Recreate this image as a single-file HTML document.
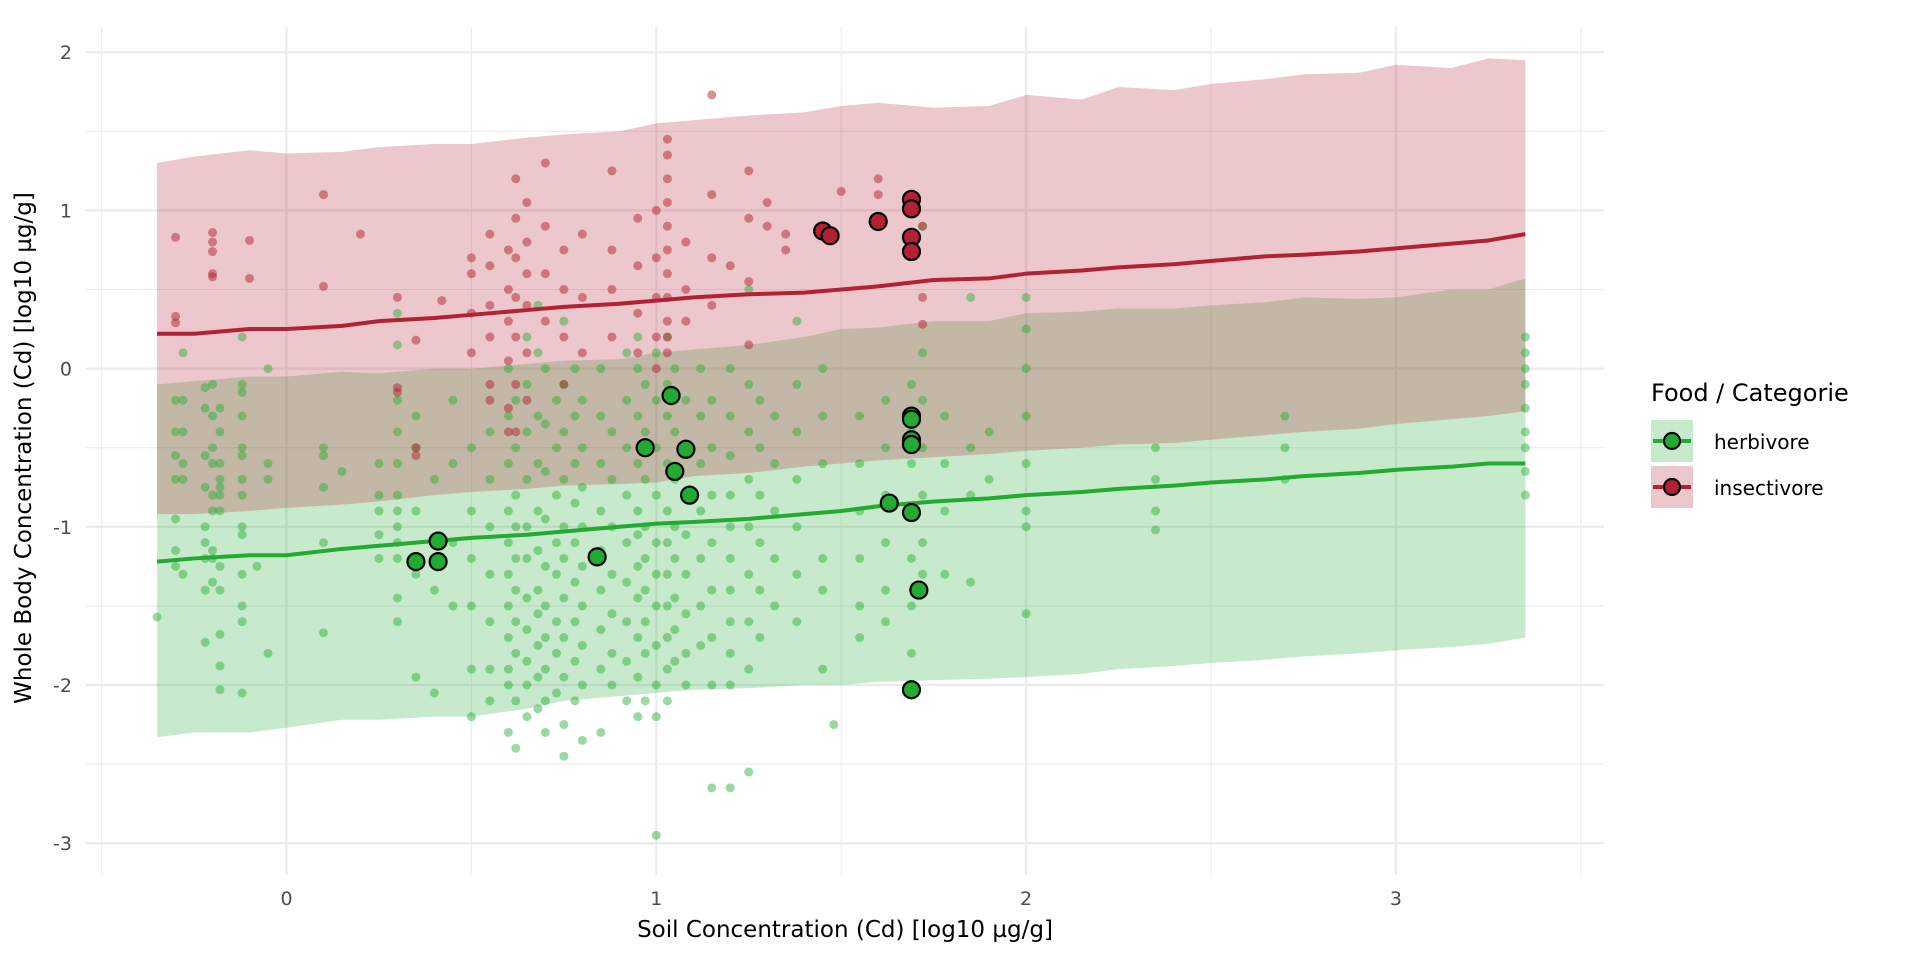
<!DOCTYPE html>
<html><head><meta charset="utf-8">
<style>
html,body{margin:0;padding:0;background:#fff;}
svg{display:block;font-family:"DejaVu Sans","Liberation Sans",sans-serif;}
</style></head>
<body>
<svg id="chart" width="1920" height="960">
  <g id="grid"></g>
  <g id="ribbons"></g>
  <g id="points"></g>
  <g id="lines"></g>
  <g id="bigpoints"></g>
  <g id="axes"></g>
  <text x="845" y="937" text-anchor="middle" font-size="23" fill="#000">Soil Concentration (Cd) [log10 µg/g]</text>
  <text transform="translate(31,448) rotate(-90)" text-anchor="middle" font-size="23" fill="#000">Whole Body Concentration (Cd) [log10 µg/g]</text>
  <g>
    <text x="1651" y="401" font-size="24" fill="#000">Food / Categorie</text>
    <g>
      <rect x="1651" y="420" width="42" height="42" fill="rgb(200,234,204)"/>
      <line x1="1653" y1="441" x2="1691" y2="441" stroke="#22aa33" stroke-width="4"/>
      <circle cx="1672" cy="441" r="8" fill="#22aa33" stroke="#000" stroke-width="2.2"/>
      <text x="1714" y="449" font-size="20" fill="#000">herbivore</text>
    </g>
    <g>
      <rect x="1651" y="466" width="42" height="42" fill="rgb(236,200,204)"/>
      <line x1="1653" y1="487" x2="1691" y2="487" stroke="#b22234" stroke-width="4"/>
      <circle cx="1672" cy="487" r="8" fill="#b22234" stroke="#000" stroke-width="2.2"/>
      <text x="1714" y="495" font-size="20" fill="#000">insectivore</text>
    </g>
  </g>
</svg>
<script>
const xTicks = [0, 1, 2, 3];
const yTicks = [2, 1, 0, -1, -2, -3];
const ribbonX = [-0.35,-0.25,-0.1,0,0.15,0.25,0.4,0.5,0.65,0.75,0.9,1.0,1.1,1.25,1.4,1.5,1.6,1.75,1.9,2.0,2.15,2.25,2.4,2.5,2.65,2.75,2.9,3.0,3.15,3.25,3.35];
const insUpper = [1.30,1.34,1.38,1.36,1.37,1.40,1.42,1.42,1.46,1.48,1.50,1.55,1.57,1.60,1.62,1.66,1.68,1.65,1.66,1.73,1.70,1.78,1.76,1.80,1.83,1.86,1.87,1.92,1.90,1.96,1.95];
const insLower = [-0.92,-0.92,-0.90,-0.88,-0.86,-0.84,-0.80,-0.78,-0.76,-0.74,-0.73,-0.72,-0.68,-0.66,-0.62,-0.60,-0.58,-0.56,-0.54,-0.52,-0.50,-0.48,-0.47,-0.45,-0.42,-0.40,-0.38,-0.35,-0.32,-0.30,-0.27];
const insMid = [0.22,0.22,0.25,0.25,0.27,0.30,0.32,0.34,0.37,0.39,0.41,0.43,0.45,0.47,0.48,0.50,0.52,0.56,0.57,0.60,0.62,0.64,0.66,0.68,0.71,0.72,0.74,0.76,0.79,0.81,0.85];
const herbUpper = [-0.10,-0.08,-0.05,-0.05,-0.02,-0.03,0.00,0.00,0.03,0.05,0.06,0.10,0.12,0.15,0.20,0.25,0.26,0.30,0.30,0.35,0.36,0.38,0.38,0.40,0.42,0.45,0.44,0.45,0.50,0.50,0.57];
const herbLower = [-2.33,-2.30,-2.30,-2.27,-2.22,-2.22,-2.20,-2.20,-2.15,-2.10,-2.07,-2.05,-2.03,-2.02,-2.00,-2.00,-1.98,-1.97,-1.96,-1.95,-1.93,-1.90,-1.88,-1.86,-1.84,-1.82,-1.80,-1.78,-1.76,-1.74,-1.70];
const herbMid = [-1.22,-1.20,-1.18,-1.18,-1.14,-1.12,-1.09,-1.07,-1.05,-1.03,-1.00,-0.98,-0.97,-0.95,-0.92,-0.90,-0.87,-0.84,-0.82,-0.80,-0.78,-0.76,-0.74,-0.72,-0.70,-0.68,-0.66,-0.64,-0.62,-0.60,-0.60];
const herbCols = [
 [-0.35,[-1.57]],[-0.3,[-0.2,-0.4,-0.55,-0.7,-0.95,-1.15,-1.25]],[-0.28,[0.1,-0.2,-0.4,-0.6,-0.7,-1.3]],
 [-0.22,[-0.12,-0.25,-0.55,-0.75,-1.0,-1.1,-1.2,-1.4,-1.73]],[-0.2,[-0.1,-0.3,-0.5,-0.6,-0.8,-0.9,-1.15,-1.2,-1.35]],
 [-0.18,[-0.25,-0.4,-0.6,-0.7,-0.75,-0.8,-0.9,-1.25,-1.4,-1.68,-1.88,-2.03]],
 [-0.12,[0.2,-0.1,-0.15,-0.3,-0.5,-0.55,-0.7,-0.8,-1.0,-1.05,-1.3,-1.5,-1.6,-2.05]],[-0.08,[-1.25]],
 [-0.05,[0.0,-0.6,-0.7,-1.8]],[0.1,[-0.5,-0.55,-0.75,-1.1,-1.67]],[0.15,[-0.65]],[0.25,[-0.6,-0.8,-0.9,-1.05,-1.2]],
 [0.3,[0.35,0.15,-0.2,-0.4,-0.6,-0.8,-0.9,-1.0,-1.1,-1.2,-1.45,-1.6]],[0.35,[-0.3,-0.5,-0.9,-1.3,-1.95]],
 [0.4,[-0.7,-1.4,-2.05]],[0.45,[-0.2,-0.6,-1.1,-1.5]],[0.5,[-0.5,-0.9,-1.2,-1.5,-1.9,-2.2]],
 [0.55,[-0.4,-0.7,-1.0,-1.3,-1.6,-1.9,-2.1]],[0.6,[0.0,-0.3,-0.6,-0.9,-1.1,-1.3,-1.5,-1.7,-1.9,-2.0,-2.3]],
 [0.62,[-0.2,-0.5,-0.8,-1.0,-1.2,-1.4,-1.6,-1.8,-2.1,-2.4]],[0.65,[0.2,-0.1,-0.4,-0.7,-1.0,-1.2,-1.45,-1.65,-1.85,-2.0,-2.2]],
 [0.68,[0.4,0.1,-0.3,-0.6,-0.9,-1.15,-1.4,-1.55,-1.75,-1.95,-2.15]],[0.7,[0.0,-0.35,-0.65,-0.95,-1.25,-1.5,-1.7,-1.9,-2.1,-2.3]],
 [0.73,[-0.2,-0.5,-0.8,-1.1,-1.3,-1.6,-1.8,-2.05]],[0.75,[0.3,-0.1,-0.4,-0.7,-1.0,-1.2,-1.45,-1.7,-1.95,-2.25,-2.45]],
 [0.78,[0.0,-0.3,-0.6,-0.85,-1.1,-1.35,-1.6,-1.85,-2.1]],[0.8,[-0.2,-0.5,-0.75,-1.0,-1.25,-1.5,-1.75,-2.0,-2.35]],
 [0.85,[0.0,-0.3,-0.6,-0.9,-1.15,-1.4,-1.65,-1.9,-2.3]],[0.88,[-0.4,-0.7,-1.0,-1.3,-1.55,-1.8,-2.0]],
 [0.92,[0.1,-0.2,-0.5,-0.8,-1.1,-1.35,-1.6,-1.85,-2.1]],[0.95,[0.2,0.0,-0.3,-0.6,-0.9,-1.05,-1.25,-1.45,-1.7,-1.95,-2.2]],
 [0.97,[-0.1,-0.4,-0.7,-1.0,-1.2,-1.4,-1.6,-1.8,-2.1]],[1.0,[0.1,-0.2,-0.5,-0.8,-1.1,-1.3,-1.5,-1.75,-2.0,-2.2,-2.95]],
 [1.03,[0.2,-0.1,-0.3,-0.6,-0.9,-1.1,-1.3,-1.5,-1.7,-1.9,-2.1]],[1.05,[0.0,-0.4,-0.7,-1.0,-1.2,-1.45,-1.65,-1.85]],
 [1.08,[-0.2,-0.5,-0.8,-1.05,-1.3,-1.55,-1.8,-2.0]],[1.12,[0.0,-0.3,-0.6,-0.9,-1.2,-1.5,-1.75]],
 [1.15,[-0.2,-0.5,-0.8,-1.1,-1.4,-1.7,-2.0,-2.65]],[1.2,[0.0,-0.3,-0.55,-0.8,-1.0,-1.2,-1.4,-1.6,-1.8,-2.0,-2.65]],
 [1.25,[0.5,-0.1,-0.4,-0.7,-1.0,-1.3,-1.6,-1.9,-2.55]],[1.28,[-0.2,-0.5,-0.8,-1.1,-1.4,-1.7]],
 [1.32,[-0.3,-0.6,-0.9,-1.2,-1.5]],[1.38,[0.3,-0.1,-0.4,-0.7,-1.0,-1.3,-1.6]],[1.45,[0.0,-0.3,-0.6,-1.2,-1.4,-1.9]],
 [1.48,[-2.25]],[1.55,[-0.3,-0.6,-0.9,-1.2,-1.5,-1.7]],[1.62,[-0.2,-0.5,-0.8,-1.1,-1.4,-1.6]],
 [1.69,[-0.1,-0.4,-0.6,-0.9,-1.2,-1.5,-1.8]],[1.72,[0.9,0.1,-0.2,-0.5,-0.8,-1.1,-1.3]],[1.78,[-0.3,-0.6,-0.9,-1.3]],
 [1.85,[0.45,-0.5,-0.8,-1.35]],[1.9,[-0.4,-0.7]],[2.0,[0.45,0.25,0.0,-0.3,-0.6,-0.9,-1.0,-1.55]],
 [2.35,[-0.5,-0.7,-0.9,-1.02]],[2.7,[-0.3,-0.5,-0.7]],[3.35,[0.2,0.1,0.0,-0.1,-0.25,-0.4,-0.5,-0.65,-0.8]]
];
const insCols = [
 [-0.3,[0.83,0.33,0.29]],[-0.2,[0.86,0.8,0.74,0.6,0.58]],[-0.1,[0.81,0.57]],[0.1,[1.1,0.52]],[0.2,[0.85]],
 [0.3,[0.45,-0.12,-0.15]],[0.35,[0.18,-0.5,-0.55]],[0.42,[0.43]],[0.5,[0.7,0.6,0.35,0.1]],
 [0.55,[0.85,0.65,0.4,0.2,-0.1,-0.2]],[0.6,[0.75,0.5,0.3,0.05,-0.25,-0.4]],[0.62,[1.2,0.95,0.7,0.45,0.2,-0.1,-0.4]],
 [0.65,[1.05,0.8,0.6,0.4,0.1,-0.2]],[0.7,[1.3,0.9,0.6,0.3]],[0.75,[0.75,0.5,0.2,-0.1]],[0.8,[0.85,0.45,0.1]],
 [0.88,[1.25,0.75,0.5,0.2]],[0.95,[0.95,0.65,0.35,0.1]],[1.0,[1.0,0.7,0.45,0.2,0.0]],
 [1.03,[1.45,1.35,1.2,1.05,0.9,0.75,0.6,0.45,0.3,0.2,0.1]],[1.08,[0.8,0.5,0.3]],[1.15,[1.73,1.1,0.7,0.4]],
 [1.2,[0.65]],[1.25,[1.25,0.95,0.55,0.15]],[1.3,[1.05,0.9]],[1.35,[0.85,0.75]],[1.5,[1.12]],[1.6,[1.2,1.1]],
 [1.72,[0.9,0.45,0.28]]
];
const herbBigX = [0.35,0.41,0.41,0.84,0.97,1.04,1.05,1.08,1.09,1.63,1.69,1.69,1.69,1.69,1.69,1.71,1.69];
const herbBigY = [-1.22,-1.09,-1.22,-1.19,-0.50,-0.17,-0.65,-0.51,-0.80,-0.85,-0.30,-0.32,-0.45,-0.48,-0.91,-1.40,-2.03];
const insBigX = [1.45,1.47,1.60,1.69,1.69,1.69,1.69];
const insBigY = [0.87,0.84,0.93,1.07,1.01,0.83,0.74];

const NS = 'http://www.w3.org/2000/svg';
const PL = 86, PR = 1604, PT = 27, PB = 875;
function sx(v){ return 286.5 + v * 369.8; }
function sy(v){ return 368.6 - v * 158.2; }
function mk(tag, attrs, parent){
  const e = document.createElementNS(NS, tag);
  for (const k in attrs) e.setAttribute(k, attrs[k]);
  parent.appendChild(e); return e;
}
const grid = document.getElementById('grid');
for (let v = -0.5; v <= 3.5; v += 0.5) {
  const major = Math.abs(v - Math.round(v)) < 1e-9;
  const l = mk('line', {x1: sx(v), x2: sx(v), y1: PT, y2: PB, stroke: '#ebebeb', 'stroke-width': major ? 2.2 : 1.1}, grid);
  
  
}
for (let v = -3; v <= 2; v += 0.5) {
  const major = Math.abs(v - Math.round(v)) < 1e-9;
  const l = mk('line', {x1: PL, x2: PR, y1: sy(v), y2: sy(v), stroke: '#ebebeb', 'stroke-width': major ? 2.2 : 1.1}, grid);
  
  
}
const axes = document.getElementById('axes');
xTicks.forEach(t => {
  const e = mk('text', {x: sx(t), y: 905, 'text-anchor': 'middle', 'font-size': 19, fill: '#4d4d4d'}, axes);
  e.textContent = String(t);
  
  
});
yTicks.forEach(t => {
  const e = mk('text', {x: 72, y: sy(t) + 7, 'text-anchor': 'end', 'font-size': 19, fill: '#4d4d4d'}, axes);
  e.textContent = String(t);
  
  
});
function ribbon(up, lo, col, name){
  let d = '';
  ribbonX.forEach((x, i) => { d += (i ? 'L' : 'M') + sx(x) + ',' + sy(up[i]); });
  for (let i = ribbonX.length - 1; i >= 0; i--) d += 'L' + sx(ribbonX[i]) + ',' + sy(lo[i]);
  const p = mk('path', {d: d + 'Z', fill: col, 'fill-opacity': 0.25}, document.getElementById('ribbons'));
  
  
}
ribbon(herbUpper, herbLower, 'rgb(34,170,51)', 'herbivore-ribbon');
ribbon(insUpper, insLower, 'rgb(178,34,52)', 'insectivore-ribbon');
const pts = document.getElementById('points');
function scatter(cols, col, op, name){
  cols.forEach(c => c[1].forEach(y => {
    const e = mk('circle', {cx: sx(c[0]), cy: sy(y), r: 4.5, fill: col, 'fill-opacity': op}, pts);
    
    
  }));
}
scatter(herbCols, 'rgb(34,170,51)', 0.45, 'herbivore-point');
scatter(insCols, 'rgb(178,34,52)', 0.5, 'insectivore-point');
function line(ys, col, name){
  const p = mk('polyline', {points: ribbonX.map((x, i) => sx(x) + ',' + sy(ys[i])).join(' '), fill: 'none', stroke: col, 'stroke-width': 4, 'stroke-linejoin': 'round'}, document.getElementById('lines'));
  
  
}
line(herbMid, '#22aa33', 'herbivore-line');
line(insMid, '#b22234', 'insectivore-line');
const big = document.getElementById('bigpoints');
function bigpts(xs, ys, col, name){
  xs.forEach((x, i) => {
    const e = mk('circle', {cx: sx(x), cy: sy(ys[i]), r: 8.5, fill: col, stroke: '#000', 'stroke-width': 2.2}, big);
    
    
  });
}
bigpts(herbBigX, herbBigY, '#22aa33', 'herbivore-highlight');
bigpts(insBigX, insBigY, '#b22234', 'insectivore-highlight');
</script>
</body></html>
